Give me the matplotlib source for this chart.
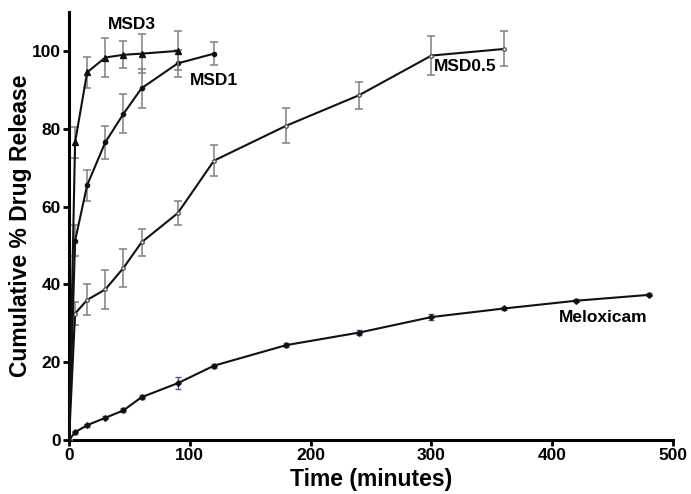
import matplotlib
matplotlib.use("Agg")
import matplotlib.pyplot as plt

plt.rcParams['font.family'] = ['Liberation Sans', 'DejaVu Sans']

t_msd3 = [0, 5, 15, 30, 45, 60, 90]
msd3 = [0, 76.5, 94.5, 98.3, 99.0, 99.3, 100.0]
msd3_err = [0, 4, 4, 5, 3.5, 5, 5]

t_msd1 = [0, 5, 15, 30, 45, 60, 90, 120]
msd1 = [0, 51.2, 65.5, 76.5, 83.8, 90.4, 96.8, 99.3]
msd1_err = [0, 4, 4, 4.3, 5, 5, 3.5, 3]

t_msd05 = [0, 5, 15, 30, 45, 60, 90, 120, 180, 240, 300, 360]
msd05 = [0, 32.5, 36, 38.7, 44.2, 50.8, 58.3, 71.8, 80.8, 88.6, 98.8, 100.5]
msd05_err = [0, 3, 4, 5, 5, 3.5, 3, 4, 4.5, 3.5, 5, 4.5]

t_melox = [0, 5, 15, 30, 45, 60, 90, 120, 180, 240, 300, 360, 420, 480]
melox = [0, 2.0, 3.8, 5.7, 7.6, 11.0, 14.6, 19.1, 24.4, 27.6, 31.6, 33.8, 35.8, 37.3]
melox_err = [0, 0.4, 0.4, 0.4, 0.5, 0.5, 1.5, 0.5, 0.5, 0.6, 0.8, 0.5, 0.4, 0.4]

labels = ["MSD3", "MSD1", "MSD0.5", "Meloxicam"]

fig = plt.figure(figsize=(6.91, 4.94), dpi=100)
ax = fig.add_axes([0.0999, 0.1093, 0.8741, 0.8664])

ecol = "#808080"
ax.errorbar(t_msd05, msd05, yerr=msd05_err, color="#111111", lw=1.5,
            marker="o", ms=2.5, mfc="white", mec="#555555",
            ecolor=ecol, elinewidth=1.1, capsize=3, capthick=1.1, zorder=3)
ax.errorbar(t_msd1, msd1, yerr=msd1_err, color="#111111", lw=1.5,
            marker="o", ms=3, ecolor=ecol, elinewidth=1.1, capsize=3,
            capthick=1.1, zorder=3)
ax.errorbar(t_msd3, msd3, yerr=msd3_err, color="#111111", lw=1.5,
            marker="^", ms=4, ecolor=ecol, elinewidth=1.1, capsize=3,
            capthick=1.1, zorder=4)
ax.errorbar(t_melox, melox, yerr=melox_err, color="#111111", lw=1.5,
            marker="D", ms=2.8, ecolor="#5555aa", elinewidth=1.0, capsize=2.5,
            capthick=1.0, zorder=3)

ax.text(52, 106.8, labels[0], fontsize=12.5, fontweight="bold", ha="center", va="center")
ax.text(120, 92.5, labels[1], fontsize=12.5, fontweight="bold", ha="center", va="center")
ax.text(328, 96.0, labels[2], fontsize=12.5, fontweight="bold", ha="center", va="center")
ax.text(442, 31.4, labels[3], fontsize=12.5, fontweight="bold", ha="center", va="center")

ax.set_xlim(0, 500)
ax.set_ylim(0, 110)
ax.set_xticks([0, 100, 200, 300, 400, 500])
ax.set_yticks([0, 20, 40, 60, 80, 100])
ax.spines["top"].set_visible(False)
ax.spines["right"].set_visible(False)
for s in ["left", "bottom"]:
    ax.spines[s].set_linewidth(2.2)
ax.tick_params(axis="both", direction="out", width=2, length=4, labelsize=12.5, pad=2)
for lab in ax.get_xticklabels() + ax.get_yticklabels():
    lab.set_fontweight("bold")

ax.set_xlabel("Time (minutes)", fontsize=16.5, fontweight="bold", labelpad=3)
ax.set_ylabel("Cumulative % Drug Release", fontsize=16.5, fontweight="bold", labelpad=0)

fig.savefig("out.png", dpi=100)
